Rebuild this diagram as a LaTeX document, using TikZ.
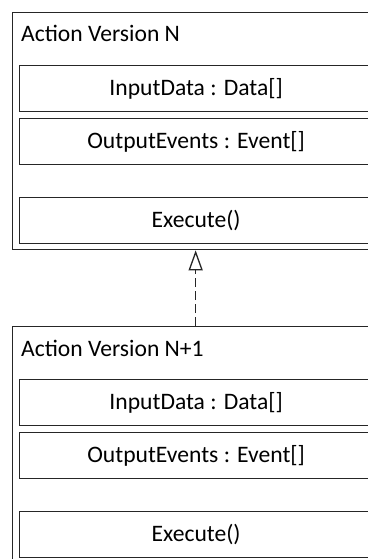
\documentclass[tikz,border=0pt]{standalone}
\usepackage{fontspec}
\setmainfont{Carlito}
\usetikzlibrary{arrows.meta}
\tikzset{
  classbox/.style={draw=black!85, line width=1.3pt, fill=white, rectangle, inner sep=0pt,
    minimum width=366pt, minimum height=237pt, anchor=north west},
  memberbox/.style={draw=black!85, line width=1.3pt, rectangle, inner sep=0pt,
    minimum width=354pt, minimum height=46pt, anchor=north west,
    font=\fontsize{23.6}{28}\selectfont},
  classtitle/.style={anchor=base west, inner sep=0pt, font=\fontsize{23.6}{28}\selectfont},
  realizes/.style={draw=black!85, line width=1.3pt, dash pattern=on 9pt off 4pt,
    -{Triangle[open, length=20pt, width=14pt, line width=1.3pt]}}
}
\begin{document}
\begin{tikzpicture}[x=1pt, y=-1pt]
  \useasboundingbox (0,0) rectangle (367,559);

  % Action Version N
  \node[classbox] (clsA) at (12,12) {};
  \node[classtitle] (titleA) at (21,42) {Action Version N};
  \node[memberbox] (inA)   at (18.5,65)  {InputData : Data[]};
  \node[memberbox] (outA)  at (18.5,118) {OutputEvents : Event[]};
  \node[memberbox] (exeA)  at (18.5,197) {Execute()};

  % Action Version N+1
  \node[classbox] (clsB) at (12,326) {};
  \node[classtitle] (titleB) at (21,356) {Action Version N+1};
  \node[memberbox] (inB)   at (18.5,379)  {InputData : Data[]};
  \node[memberbox] (outB)  at (18.5,432)  {OutputEvents : Event[]};
  \node[memberbox] (exeB)  at (18.5,511)  {Execute()};

  % realization link
  \draw[realizes] (clsB.north) -- (clsA.south);
\end{tikzpicture}
\end{document}
